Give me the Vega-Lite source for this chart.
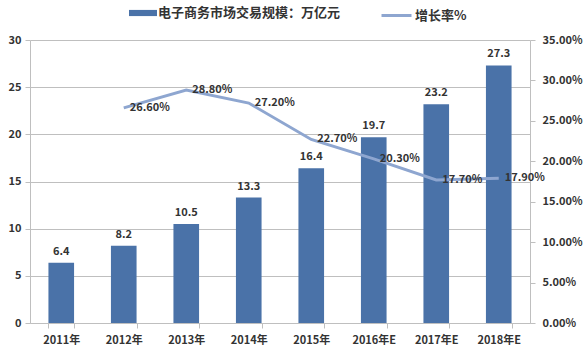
{
  "$schema": "https://vega.github.io/schema/vega-lite/v6.json",
  "width": 500,
  "height": 283,
  "autosize": {"type": "none"},
  "padding": {"left": 30, "top": 40, "right": 57, "bottom": 29},
  "background": "white",
  "config": {
    "view": {"stroke": null},
    "font": "Noto Sans CJK SC",
    "axis": {"labelFont": "Noto Sans CJK SC", "labelFontSize": 11, "labelColor": "#333333", "labelFontWeight": "bold", "domainColor": "#BFBFBF", "tickColor": "#BFBFBF", "gridColor": "#BFBFBF", "title": null}
  },
  "data": {
    "values": [
      {"year": "2011年", "value": 6.4, "rate": null},
      {"year": "2012年", "value": 8.2, "rate": 0.266},
      {"year": "2013年", "value": 10.5, "rate": 0.288},
      {"year": "2014年", "value": 13.3, "rate": 0.272},
      {"year": "2015年", "value": 16.4, "rate": 0.227},
      {"year": "2016年E", "value": 19.7, "rate": 0.203},
      {"year": "2017年E", "value": 23.2, "rate": 0.177},
      {"year": "2018年E", "value": 27.3, "rate": 0.179}
    ]
  },
  "encoding": {
    "x": {
      "field": "year", "type": "ordinal", "sort": null,
      "scale": {"paddingInner": 0.59, "paddingOuter": 0.295},
      "axis": {"labelAngle": 0, "tickBand": "extent", "tickSize": 5, "labelPadding": 6, "grid": false}
    }
  },
  "layer": [
    {
      "encoding": {
        "y": {
          "field": "value", "type": "quantitative",
          "scale": {"domain": [0, 30]},
          "axis": {"values": [0, 5, 10, 15, 20, 25, 30], "grid": true, "tickSize": 5, "labelPadding": 4}
        }
      },
      "layer": [
        {
          "mark": {"type": "bar"},
          "encoding": {
            "fill": {
              "datum": "电子商务市场交易规模：万亿元",
              "scale": {"range": ["#4A72A8"]},
              "legend": {
                "orient": "none", "legendX": 99, "legendY": -41, "title": null,
                "symbolType": "M-1,-0.22H1V0.22H-1Z", "symbolSize": 784, "symbolStrokeWidth": 0,
                "labelFont": "Noto Sans CJK SC", "labelFontSize": 13, "labelFontWeight": "bold", "labelColor": "#333333", "labelOffset": 1, "labelLimit": 400
              }
            }
          }
        },
        {
          "mark": {"type": "text", "baseline": "bottom", "dy": -6, "fontSize": 11, "fontWeight": "bold", "color": "#333333"},
          "encoding": {"text": {"field": "value", "type": "quantitative", "format": ".1f"}}
        }
      ]
    },
    {
      "transform": [{"filter": "datum.rate != null"}],
      "encoding": {
        "y": {
          "field": "rate", "type": "quantitative",
          "scale": {"domain": [0, 0.35]},
          "axis": {"orient": "right", "format": ".2%", "values": [0, 0.05, 0.1, 0.15, 0.2, 0.25, 0.3, 0.35], "grid": false, "tickSize": 5, "labelPadding": 7}
        }
      },
      "layer": [
        {
          "mark": {"type": "line", "strokeWidth": 3},
          "encoding": {
            "stroke": {
              "datum": "增长率%",
              "scale": {"range": ["#8EA6D0"]},
              "legend": {
                "orient": "none", "legendX": 350, "legendY": -41, "title": null,
                "symbolType": "stroke", "symbolSize": 900, "symbolStrokeWidth": 3,
                "labelFont": "Noto Sans CJK SC", "labelFontSize": 13, "labelFontWeight": "bold", "labelColor": "#333333", "labelOffset": 2, "labelLimit": 400
              }
            }
          }
        },
        {
          "mark": {"type": "text", "align": "left", "baseline": "middle", "dx": 6, "fontSize": 11, "fontWeight": "bold", "color": "#333333"},
          "encoding": {"text": {"field": "rate", "type": "quantitative", "format": ".2%"}}
        }
      ]
    }
  ],
  "resolve": {"scale": {"y": "independent"}}
}
